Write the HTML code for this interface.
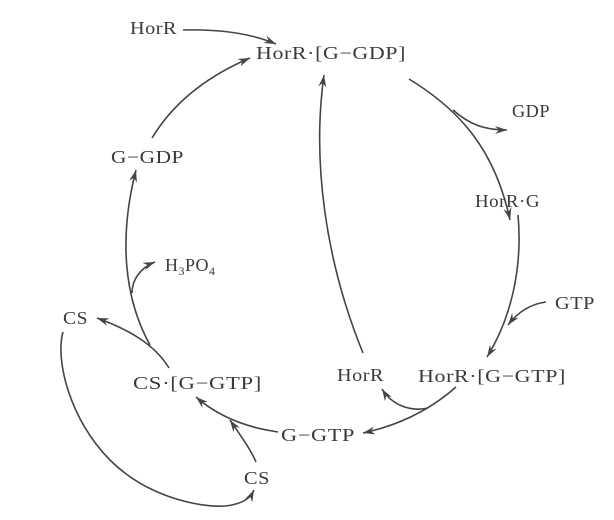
<!DOCTYPE html>
<html><head><style>
html,body{margin:0;padding:0;background:#fff;}
svg{display:block}
text{font-family:"Liberation Serif",serif;font-size:18px;fill:#3a3a3a;letter-spacing:0.5px;}
</style></head><body>
<svg width="614" height="520" viewBox="0 0 614 520" xmlns="http://www.w3.org/2000/svg">
<defs>
<marker id="a" markerWidth="14" markerHeight="10" refX="12" refY="5" orient="auto" markerUnits="userSpaceOnUse">
<path d="M0,1 L12,5 L0,9 L4,5 Z" fill="#444"/>
</marker>
</defs>
<g fill="none" stroke="#444" stroke-width="1.6">
<path d="M183,30 C220,29 250,33 276,44" marker-end="url(#a)"/>
<path d="M409,79 C460,110 495,150 510,220" marker-end="url(#a)"/>
<path d="M453,110 C470,125 485,130 507,130" marker-end="url(#a)"/>
<path d="M518,215 C523,270 510,320 487,357" marker-end="url(#a)"/>
<path d="M546,302 C530,304 518,312 508,325" marker-end="url(#a)"/>
<path d="M456,387 C430,410 400,425 363,433" marker-end="url(#a)"/>
<path d="M428,408 C410,412 392,405 382,389" marker-end="url(#a)"/>
<path d="M278,432 C250,428 220,418 196,397" marker-end="url(#a)"/>
<path d="M256,462 C250,448 240,435 230,420" marker-end="url(#a)"/>
<path d="M63,332 C55,360 70,420 110,460 C150,500 210,510 232,505 C245,502 250,498 254,490" marker-end="url(#a)"/>
<path d="M169,368 C155,345 130,330 97,318" marker-end="url(#a)"/>
<path d="M150,345 C125,300 118,240 136,170" marker-end="url(#a)"/>
<path d="M132,293 C132,280 140,268 155,262" marker-end="url(#a)"/>
<path d="M152,138 C175,100 210,75 250,58" marker-end="url(#a)"/>
<path d="M363,353 C325,260 312,160 324,75" marker-end="url(#a)"/>
</g>
<text x="130" y="34" textLength="47" lengthAdjust="spacingAndGlyphs">HorR</text>
<text x="256" y="59" textLength="150" lengthAdjust="spacingAndGlyphs">HorR·[G−GDP]</text>
<text x="512" y="117" textLength="38" lengthAdjust="spacingAndGlyphs">GDP</text>
<text x="111" y="163" textLength="73" lengthAdjust="spacingAndGlyphs">G−GDP</text>
<text x="475" y="207" textLength="65" lengthAdjust="spacingAndGlyphs">HorR·G</text>
<text x="165" y="271">H<tspan font-size="12" dy="4">3</tspan><tspan dy="-4">PO</tspan><tspan font-size="12" dy="4">4</tspan></text>
<text x="555" y="309" textLength="40" lengthAdjust="spacingAndGlyphs">GTP</text>
<text x="63" y="324" textLength="25" lengthAdjust="spacingAndGlyphs">CS</text>
<text x="133" y="389" textLength="129" lengthAdjust="spacingAndGlyphs">CS·[G−GTP]</text>
<text x="337" y="381" textLength="47" lengthAdjust="spacingAndGlyphs">HorR</text>
<text x="418" y="382" textLength="148" lengthAdjust="spacingAndGlyphs">HorR·[G−GTP]</text>
<text x="281" y="441" textLength="74" lengthAdjust="spacingAndGlyphs">G−GTP</text>
<text x="244" y="484" textLength="26" lengthAdjust="spacingAndGlyphs">CS</text>
</svg>
</body></html>
